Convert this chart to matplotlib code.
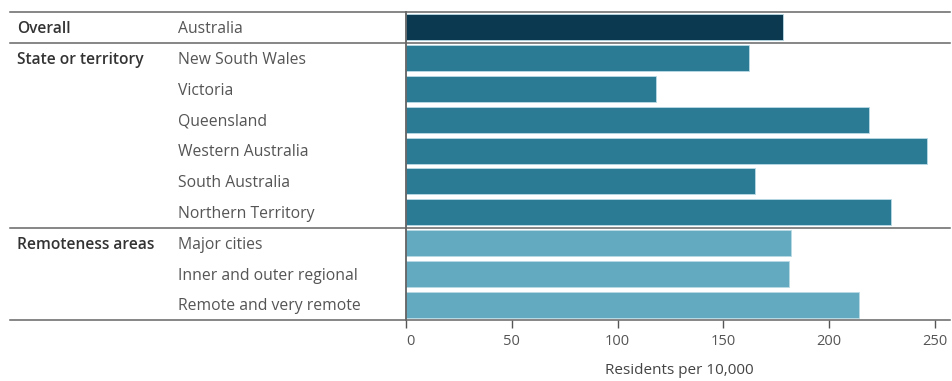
import matplotlib.pyplot as plt

# data
groups = ["Overall", "State or territory", "Remoteness areas"]
labels = ["Australia", "New South Wales", "Victoria", "Queensland",
          "Western Australia", "South Australia", "Northern Territory",
          "Major cities", "Inner and outer regional", "Remote and very remote"]
group_of = [0, 1, 1, 1, 1, 1, 1, 2, 2, 2]
values = [178, 162, 118, 219, 246, 165, 229, 182, 181, 214]
group_colors = ["#0b3a50", "#2a7b93", "#63a9bf"]
xticks = [0, 50, 100, 150, 200, 250]

W, H = 953, 381
fig = plt.figure(figsize=(W / 100, H / 100), dpi=100)
plt.rcParams['font.family'] = ['Open Sans', 'DejaVu Sans']

left, right, top, bottom = 406, 952, 12, 320
ax = fig.add_axes([left / W, 1 - bottom / H, (right - left) / W, (bottom - top) / H])

n = len(labels)
ys = list(range(n))
colors = [group_colors[g] for g in group_of]
ax.barh(ys, values, height=0.84, color=colors, edgecolor="#b9dbe6", linewidth=0.6, zorder=2)
ax.set_ylim(n - 0.5, -0.5)
ax.set_xlim(0, 258)

for s in ["top", "right", "bottom"]:
    ax.spines[s].set_visible(False)
ax.spines["left"].set_color("#555555")
ax.spines["left"].set_linewidth(1.2)
ax.set_yticks([])
ax.set_xticks(xticks)
ax.tick_params(axis="x", length=6, width=1, color="#555555", labelcolor="#555555",
               labelsize=10.5, pad=4)
ax.get_xticklabels()[0].set_horizontalalignment("left")
ax.set_xlabel("Residents per 10,000", fontsize=11, color="#444444", labelpad=10)

# horizontal separator lines spanning label area
x_start = (10 - left) / (right - left)
x_end = (950 - left) / (right - left)
seps = [-0.5]
for i in range(1, n):
    if group_of[i] != group_of[i - 1]:
        seps.append(i - 0.5)
seps.append(n - 0.5)
for y in seps:
    ax.axhline(y, xmin=x_start, xmax=x_end, color="#666666", linewidth=1.1,
               clip_on=False, zorder=3)

# labels
to_ax = lambda px: (px - left) / (right - left)
trans = ax.get_yaxis_transform()
for i, lab in enumerate(labels):
    ax.text(to_ax(178), i + 0.06, lab, transform=trans, va="center", ha="left",
            fontsize=11.3, color="#555555")
    if i == 0 or group_of[i] != group_of[i - 1]:
        ax.text(to_ax(17), i + 0.06, groups[group_of[i]], transform=trans, va="center",
                ha="left", fontsize=11.2, color="#333333", fontweight="semibold")

fig.savefig("out.png", dpi=100)
